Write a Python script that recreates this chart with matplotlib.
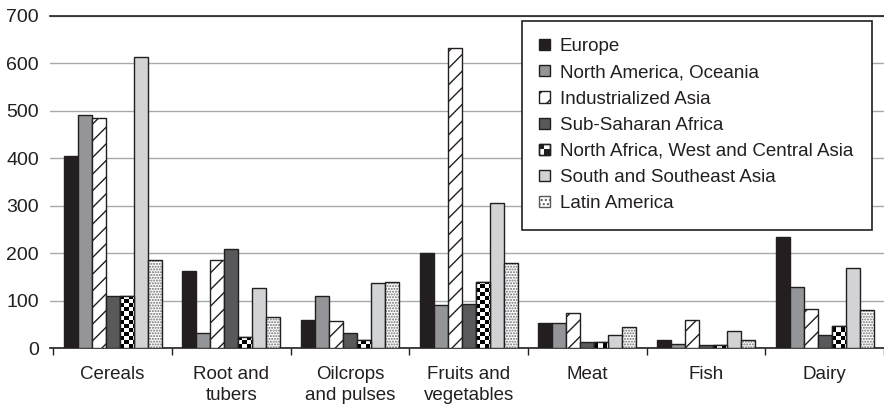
import numpy as np
import matplotlib
matplotlib.use("Agg")
import matplotlib.pyplot as plt
from matplotlib.patches import Rectangle
from matplotlib.legend_handler import HandlerBase

plt.rcParams["font.family"] = ["Liberation Sans", "DejaVu Sans"]

categories = ["Cereals", "Root and\ntubers", "Oilcrops\nand pulses",
              "Fruits and\nvegetables", "Meat", "Fish", "Dairy"]
regions = ["Europe", "North America, Oceania", "Industrialized Asia",
           "Sub-Saharan Africa", "North Africa, West and Central Asia",
           "South and Southeast Asia", "Latin America"]

europe = [405, 163, 60, 201, 53, 18, 235]
north_america_oceania = [491, 33, 110, 91, 53, 9, 128]
industrialized_asia = [485, 185, 58, 633, 74, 59, 83]
sub_saharan_africa = [110, 210, 32, 93, 13, 6, 29]
north_africa_wc_asia = [110, 23, 18, 140, 13, 6, 47]
south_southeast_asia = [614, 126, 138, 306, 27, 37, 169]
latin_america = [186, 65, 140, 179, 44, 18, 81]

yticks = [0, 100, 200, 300, 400, 500, 600, 700]

series = [europe, north_america_oceania, industrialized_asia,
          sub_saharan_africa, north_africa_wc_asia, south_southeast_asia,
          latin_america]

EDGE = "#231f20"
styles = [
    dict(color="#231f20", hatch=None),
    dict(color="#939598", hatch=None),
    dict(color="white", hatch="//"),
    dict(color="#58595b", hatch=None),
    dict(color="white", hatch="checker"),
    dict(color="#d1d3d4", hatch=None),
    dict(color="white", hatch="speckle"),
]


class CheckerHandler(HandlerBase):
    """Legend key drawn as a small 2x2 checkerboard."""

    def create_artists(self, legend, orig_handle, xdescent, ydescent,
                       width, height, fontsize, trans):
        x0, y0 = -xdescent, -ydescent
        hw, hh = width / 2, height / 2
        base = Rectangle((x0, y0), width, height, facecolor="white",
                         edgecolor=EDGE, linewidth=1.0, transform=trans)
        a = Rectangle((x0, y0 + hh), hw, hh, facecolor=EDGE,
                      edgecolor="none", transform=trans)
        b = Rectangle((x0 + hw, y0), hw, hh, facecolor=EDGE,
                      edgecolor="none", transform=trans)
        frame = Rectangle((x0, y0), width, height, fill=False,
                          edgecolor=EDGE, linewidth=1.0, transform=trans)
        return [base, a, b, frame]


W, H = 884, 409
fig = plt.figure(figsize=(W / 100, H / 100), dpi=100)
ax_left, ax_right = 50 / W, 884 / W
ax_bottom, ax_top = (H - 348.3) / H, (H - 15.7) / H
ax = fig.add_axes([ax_left, ax_bottom, ax_right - ax_left, ax_top - ax_bottom])

x = np.arange(len(categories))
bw = 0.118
n = len(series)
handles = []
handler_map = {}
for j, (vals, st) in enumerate(zip(series, styles)):
    pos = x - bw * n / 2 + bw * (j + 0.5)
    if st["hatch"] == "checker":
        bars = ax.bar(pos, vals, bw, color="white", edgecolor=EDGE,
                      linewidth=1.0, zorder=3)
        # checkerboard fill, clipped to each bar
        sq_x = 4 / 119.45
        sq_y = 4 / 0.4751
        for b in bars:
            x0, w_, h_ = b.get_x(), b.get_width(), b.get_height()
            ncol = int(np.ceil(w_ / sq_x))
            nrow = int(np.ceil(h_ / sq_y))
            board = (np.add.outer(np.arange(nrow), np.arange(ncol)) % 2).astype(float)
            im = ax.imshow(board, cmap="gray", vmin=0, vmax=1, origin="lower",
                           extent=(x0, x0 + ncol * sq_x, 0, nrow * sq_y),
                           aspect="auto", interpolation="nearest", zorder=3.5)
            im.set_clip_path(b)
        ax.bar(pos, vals, bw, fill=False, edgecolor=EDGE, linewidth=1.0, zorder=4)
        h = Rectangle((0, 0), 1, 1, facecolor="white", edgecolor=EDGE)
        handler_map[h] = CheckerHandler()
    elif st["hatch"] == "speckle":
        ax.bar(pos, vals, bw, color="white", edgecolor="#6d6e71",
               hatch="......", linewidth=0, zorder=3)
        ax.bar(pos, vals, bw, fill=False, edgecolor=EDGE, linewidth=1.0, zorder=4)
        h = Rectangle((0, 0), 1, 1, facecolor="white", edgecolor="#58595b",
                      hatch="....", linewidth=1.0)
    else:
        ax.bar(pos, vals, bw, color=st["color"], edgecolor=EDGE,
               hatch=st["hatch"], linewidth=1.0, zorder=3)
        h = Rectangle((0, 0), 1, 1, facecolor=st["color"], edgecolor=EDGE,
                      hatch=st["hatch"], linewidth=1.0)
    handles.append(h)

ax.set_xlim(-0.528, 6.454)
ax.set_ylim(0, 700)
ax.set_yticks(yticks)
ax.set_yticklabels([str(v) for v in yticks], fontsize=14, color="#231f20")
ax.tick_params(axis="y", length=0, pad=8)
ax.yaxis.grid(True, color="#a7a9ac", linewidth=1.0, zorder=0)
ax.set_axisbelow(True)

ax.set_xticks(np.arange(len(categories) + 1) - 0.5)
ax.set_xticklabels([])
ax.set_xticks(x, minor=True)
ax.set_xticklabels(categories, minor=True, fontsize=13.5, color="#231f20",
                   linespacing=1.3)
ax.tick_params(axis="x", which="major", length=5, width=1, color=EDGE, direction="out")
ax.tick_params(axis="x", which="minor", length=0, pad=12.5)

for s in ["left", "right"]:
    ax.spines[s].set_visible(False)
ax.spines["bottom"].set_color(EDGE)
ax.spines["bottom"].set_linewidth(1.2)
ax.spines["top"].set_color(EDGE)
ax.spines["top"].set_linewidth(1.2)

ax_h = 348.3 - 15.7
leg_x0 = (522 - 50) / 834
leg_w = (872 - 522) / 834
leg_y0 = (348.3 - 229) / ax_h
leg_h = (229 - 21) / ax_h
leg = ax.legend(handles, regions, loc="upper left",
                bbox_to_anchor=(leg_x0, leg_y0, leg_w, leg_h),
                mode="expand", fontsize=13.5, frameon=True, fancybox=False,
                edgecolor=EDGE, handlelength=0.55, handleheight=0.55,
                handletextpad=0.55, labelspacing=0.49, borderpad=0.92,
                borderaxespad=0, framealpha=1, handler_map=handler_map)
leg.get_frame().set_linewidth(1.2)
for t in leg.get_texts():
    t.set_color("#231f20")

fig.savefig("out.png", dpi=100)
